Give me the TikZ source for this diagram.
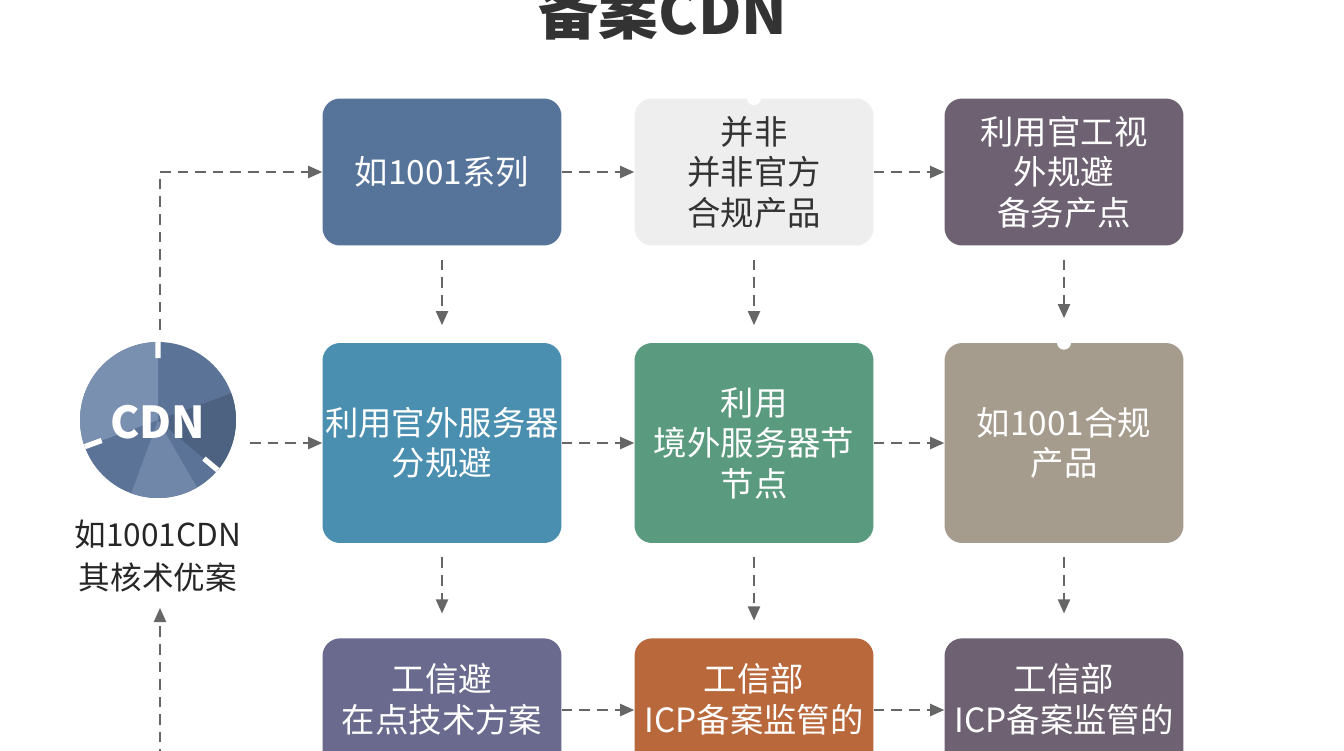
\documentclass[tikz,border=0pt]{standalone}
\usepackage{fontspec}
\setmainfont{Noto Sans CJK SC}
\usetikzlibrary{arrows.meta}
\definecolor{cdnblue}{HTML}{5B7397}
\definecolor{cdnlight}{HTML}{7A90B0}
\definecolor{boxa}{HTML}{56739A}
\definecolor{boxb}{HTML}{EEEEEE}
\definecolor{boxc}{HTML}{6E6272}
\definecolor{boxd}{HTML}{4A8FAF}
\definecolor{boxe}{HTML}{5A9A7E}
\definecolor{boxf}{HTML}{A69C8E}
\definecolor{boxg}{HTML}{6A6A8E}
\definecolor{boxh}{HTML}{B8683A}
\definecolor{arrowgray}{HTML}{666666}
\tikzset{
  stage/.style={rounded corners=10pt, minimum width=4.78cm, align=center,
    text=white, font=\fontsize{19}{23}\selectfont, inner sep=0pt},
  flow/.style={-{Triangle[length=8pt,width=7pt]}, dashed, dash pattern=on 6pt off 4pt,
    thick, arrowgray},
}
\begin{document}
\begin{tikzpicture}[x=0.02cm,y=-0.02cm]
  \useasboundingbox (0,0) rectangle (1344,750);
  \clip (0,0) rectangle (1344,750);

  % Title
  \node[font=\fontsize{34}{38}\selectfont\bfseries, text=black!80] (title) at (663,12) {备案CDN};

  % Row 1
  \node[stage, fill=boxa, minimum height=2.94cm] (r1a) at (442,172) {如1001系列};
  \node[stage, fill=boxb, text=black!80, minimum height=2.94cm] (r1b) at (754,172) {并非\\并非官方\\合规产品};
  \node[stage, fill=boxc, minimum height=2.94cm] (r1c) at (1064,172) {利用官工视\\外规避\\备务产点};

  % Row 2
  \node[stage, fill=boxd, minimum height=4cm] (r2a) at (442,443) {利用官外服务器\\分规避};
  \node[stage, fill=boxe, minimum height=4cm] (r2b) at (754,443) {利用\\境外服务器节\\节点};
  \node[stage, fill=boxf, minimum height=4cm] (r2c) at (1064,443) {如1001合规\\产品};

  % Row 3 (runs off the bottom)
  \node[stage, fill=boxg, minimum height=4cm, anchor=north] (r3a) at (442,638) {工信避\\在点技术方案\\\phantom{工}\\\phantom{工}};
  \node[stage, fill=boxh, minimum height=4cm, anchor=north] (r3b) at (754,638) {工信部\\ICP备案监管的\\\phantom{工}\\\phantom{工}};
  \node[stage, fill=boxc, minimum height=4cm, anchor=north] (r3c) at (1064,638) {工信部\\ICP备案监管的\\\phantom{工}\\\phantom{工}};

  % Notches
  \fill[white] (r1b.north) circle (7);
  \fill[white] (r2c.north) circle (7);

  % CDN icon
  \begin{scope}[shift={(158,420)}, yscale=-1]
    \fill[cdnblue] (0,0) circle (78);
    \fill[cdnlight] (0,0) -- (90:78) arc (90:200:78) -- cycle;
    \fill[cdnlight!70!cdnblue] (0,0) -- (250:78) arc (250:300:78) -- cycle;
    \fill[cdnblue!85!black] (0,0) -- (20:78) arc (20:-40:78) -- cycle;
    \draw[white, line width=3pt] (200:78) -- (200:60) (-40:78) -- (-40:60) (90:78) -- (90:62);
  \end{scope}
  \node[text=white, font=\fontsize{25}{28}\selectfont\bfseries] (cdn) at (158,422) {CDN};
  \node[align=center, font=\fontsize{18}{24}\selectfont, text=black!85] (cdnlabel) at (158,556) {如1001CDN\\其核术优案};

  % Connectors
  \coordinate (up) at (160,330);
  \coordinate (corner) at (160,172);
  \coordinate (iconr) at (250,443);
  \coordinate (low) at (160,760);
  \coordinate (lowtop) at (160,608);
  \draw[flow] (up) -- (corner) -- (r1a.west);
  \draw[flow] (iconr) -- (r2a.west);
  \draw[flow] (low) -- (lowtop);

  \draw[flow] (r1a) -- (r1b);
  \draw[flow] (r1b) -- (r1c);
  \draw[flow] (r2a) -- (r2b);
  \draw[flow] (r2b) -- (r2c);
  \draw[flow] (r3a.east|-0,710) -- (r3b.west|-0,710);
  \draw[flow] (r3b.east|-0,710) -- (r3c.west|-0,710);

  \draw[flow] ([yshift=-8]r1a.south) -- ([yshift=10]r2a.north);
  \draw[flow] ([yshift=-8]r1b.south) -- ([yshift=10]r2b.north);
  \draw[flow] ([yshift=-8]r1c.south) -- ([yshift=14]r2c.north);
  \draw[flow] ([yshift=-8]r2a.south) -- ([yshift=14]r3a.north);
  \draw[flow] ([yshift=-8]r2b.south) -- ([yshift=10]r3b.north);
  \draw[flow] ([yshift=-8]r2c.south) -- ([yshift=14]r3c.north);
\end{tikzpicture}
\end{document}
